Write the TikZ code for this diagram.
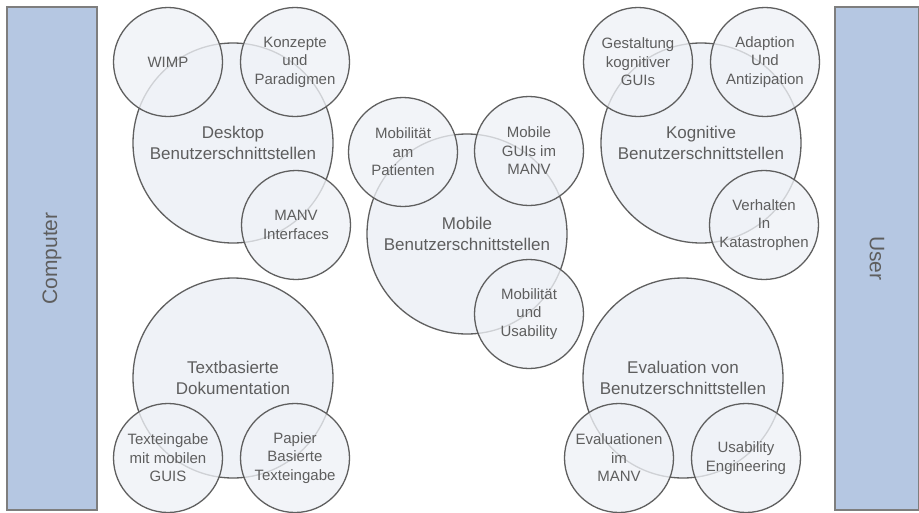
\documentclass[tikz,border=0pt]{standalone}
\usepackage{fontspec}
\setmainfont{Liberation Sans}
\begin{document}
\begin{tikzpicture}[x=1pt,y=-1pt,
  bigc/.style={circle,draw=edgegray,line width=1.3pt,fill=circfill,
    minimum size=200pt,inner sep=0pt,align=center,text=txtgray,
    font=\fontsize{17}{21.5}\selectfont},
  smallc/.style={circle,draw=edgegray,line width=1.3pt,fill=circfill,
    fill opacity=0.78,text opacity=1,minimum size=109pt,inner sep=0pt,
    align=center,text=txtgray,font=\fontsize{15}{18.5}\selectfont},
  sidebar/.style={draw=bargray,line width=1.2pt,fill=barblue,
    inner sep=0pt,minimum width=90pt,minimum height=503pt},
  sidelabel/.style={text=txtgray,font=\fontsize{21}{25}\selectfont}]
\definecolor{edgegray}{HTML}{5F5F5F}
\definecolor{circfill}{HTML}{EFF2F7}
\definecolor{txtgray}{HTML}{5E5E5E}
\definecolor{bargray}{HTML}{7E7E7E}
\definecolor{barblue}{HTML}{B5C7E2}
\useasboundingbox (0,0) rectangle (919,512);
\fill[white] (0,0) rectangle (919,512);

% side bars
\node[sidebar] (computer) at (52,258.5) {};
\node[sidelabel,rotate=90] (computerlabel) at (computer.center) {Computer};
\node[sidebar,minimum width=84pt] (user) at (877,258.5) {};
\node[sidelabel,rotate=-90] (userlabel) at (user.center) {User};

% desktop group
\node[bigc] (desktop) at (233,143) {Desktop\\Benutzerschnittstellen};
\node[smallc] (wimp) at (168,62) {WIMP};
\node[smallc] (konzepte) at (295,62) {Konzepte\\und\\Paradigmen};
\node[smallc] (manvif) at (296,225) {MANV\\Interfaces};

% mobile group
\node[bigc] (mobile) at (467,234) {Mobile\\Benutzerschnittstellen};
\node[smallc] (patient) at (403,152) {Mobilität\\am\\Patienten};
\node[smallc] (mobguis) at (529,151) {Mobile\\GUIs im\\MANV};
\node[smallc] (usab) at (529,314) {Mobilität\\und\\Usability};

% cognitive group
\node[bigc] (kognitiv) at (701,143) {Kognitive\\Benutzerschnittstellen};
\node[smallc] (gestalt) at (638,62) {Gestaltung\\kognitiver\\GUIs};
\node[smallc] (adapt) at (765,62) {Adaption\\Und\\Antizipation};
\node[smallc] (verhalten) at (764,225) {Verhalten\\In\\Katastrophen};

% text based documentation group
\node[bigc] (textdoc) at (233,378) {Textbasierte\\Dokumentation};
\node[smallc] (texteing) at (168,458) {Texteingabe\\mit mobilen\\GUIS};
\node[smallc] (papier) at (295,458) {Papier\\Basierte\\Texteingabe};

% evaluation group
\node[bigc] (evaluation) at (683,378) {Evaluation von\\Benutzerschnittstellen};
\node[smallc] (evalmanv) at (619,458) {Evaluationen\\im\\MANV};
\node[smallc] (useng) at (746,458) {Usability\\Engineering};
\end{tikzpicture}
\end{document}
